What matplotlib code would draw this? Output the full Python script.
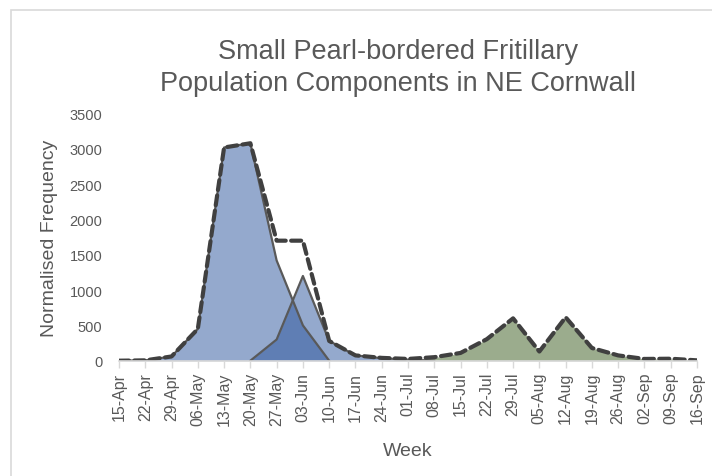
import numpy as np
import matplotlib
matplotlib.use("Agg")
import matplotlib.pyplot as plt
from matplotlib.patches import Rectangle

weeks = ['15-Apr', '22-Apr', '29-Apr', '06-May', '13-May', '20-May', '27-May',
         '03-Jun', '10-Jun', '17-Jun', '24-Jun', '01-Jul', '08-Jul', '15-Jul',
         '22-Jul', '29-Jul', '05-Aug', '12-Aug', '19-Aug', '26-Aug', '02-Sep',
         '09-Sep', '16-Sep']

nan = np.nan
# first brood (spring main peak)
brood1 = [0, 5, 60, 450, 3020, 3080, 1420, 500, 0,
          nan, nan, nan, nan, nan, nan, nan, nan, nan, nan, nan, nan, nan, nan]
# second spring component
brood2 = [nan, nan, nan, nan, nan, 0, 300, 1200, 280, 75, 35, 15, 0,
          nan, nan, nan, nan, nan, nan, nan, nan, nan, nan]
# summer brood
summer = [nan, nan, nan, nan, nan, nan, nan, nan, nan, nan, 0, 10, 45, 105,
          305, 600, 130, 615, 180, 75, 25, 25, 5]
# total of components (dashed)
total = [0, 5, 60, 450, 3020, 3080, 1700, 1700, 280, 75, 40, 25, 50, 110,
         305, 600, 130, 615, 180, 75, 25, 28, 5]

grey = '#595959'
blue = '#2b559d'
green = '#395b1d'

fig = plt.figure(figsize=(7.12, 4.77), dpi=100)
ax = fig.add_axes([119/712, 1-361.7/477, (697-119)/712, (361.7-114.6)/477])

x = np.arange(len(weeks))
for s, c in [(brood1, blue), (brood2, blue)]:
    y = np.array(s, dtype=float)
    m = ~np.isnan(y)
    ax.fill_between(x[m], y[m], 0, color=c, alpha=0.5, lw=0)
    ax.plot(x[m], y[m], color=grey, lw=1.6)

y = np.array(summer, dtype=float)
m = ~np.isnan(y)
ax.fill_between(x[m], y[m], 0, color=green, alpha=0.5, lw=0)

ax.plot(x, total, color='#404040', lw=3, linestyle=(0, (2.4, 1.3)),
        dash_capstyle='round')

ax.set_xlim(0, len(weeks) - 1)
ax.set_ylim(0, 3500)
ax.set_xticks(x)
ax.set_xticklabels(weeks, rotation=90, fontsize=11.5, color=grey,
                   family='Liberation Sans')
ax.set_yticks(np.arange(0, 3501, 500))
ax.set_yticklabels([str(v) for v in range(0, 3501, 500)], fontsize=10.5,
                   color=grey, family='Liberation Sans')
ax.tick_params(axis='x', length=5, width=1, color='#d9d9d9', pad=3)
ax.tick_params(axis='y', length=0, pad=12)

for sp in ['top', 'right', 'left']:
    ax.spines[sp].set_visible(False)
ax.spines['bottom'].set_color('#d9d9d9')
ax.spines['bottom'].set_linewidth(1.2)

ax.set_xlabel('Week', fontsize=14, color=grey, family='Liberation Sans',
              labelpad=12)
ax.set_ylabel('Normalised Frequency', fontsize=14, color=grey,
              family='Liberation Sans', labelpad=8)

fig.text(398/712, 1-52/477, 'Small Pearl-bordered Fritillary', ha='center',
         va='center', fontsize=19.5, color=grey, family='Liberation Sans')
fig.text(398/712, 1-84/477, 'Population Components in NE Cornwall',
         ha='center', va='center', fontsize=19.5, color=grey,
         family='Liberation Sans')

fig.patches.append(Rectangle((10.5/712, -0.1), 1.2, 1 - 10.5/477 + 0.1,
                             transform=fig.transFigure, fill=False,
                             edgecolor='#d9d9d9', lw=1.2))

fig.savefig('out.png', dpi=100)
